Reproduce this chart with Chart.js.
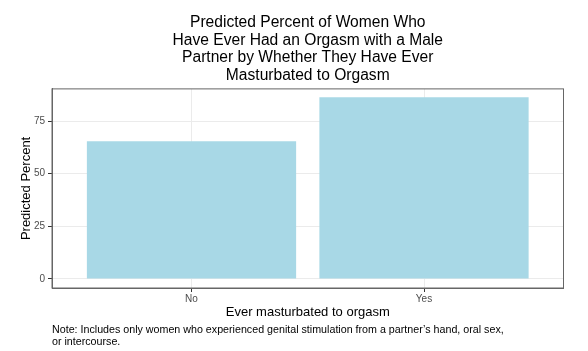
<!DOCTYPE html>
<html>
<head>
<meta charset="utf-8">
<script src="https://cdn.jsdelivr.net/npm/chart.js@4"></script>
<style>
  body { margin: 0; background: #fff; }
  #wrap { position: relative; width: 588px; height: 351px; }
  #nota {
    position: absolute; left: 52px; top: 323px;
    font: 10.7px "Liberation Sans", Arial, sans-serif; line-height: 12px; color: #000;
  }
</style>
</head>
<body>
<div id="wrap">
  <canvas id="grafico"></canvas>
  <div id="nota">Note: Includes only women who experienced genital stimulation from a partner’s hand, oral sex,<br>or intercourse.</div>
</div>
<script>
// Datos
const categorias = ["No", "Yes"];
const valores = [65.4, 86.3];
const ticksY = [0, 25, 50, 75];
const titulo = [
  "Predicted Percent of Women Who",
  "Have Ever Had an Orgasm with a Male",
  "Partner by Whether They Have Ever",
  "Masturbated to Orgasm",
];

const fuente = '"Liberation Sans", Arial, sans-serif';

// Borde del panel (estilo ggplot)
const bordePanel = {
  id: "bordePanel",
  afterDraw(chart) {
    const { ctx, chartArea: a } = chart;
    ctx.save();
    ctx.strokeStyle = "#666";
    ctx.lineWidth = 1;
    ctx.strokeRect(a.left, a.top, a.right - a.left, a.bottom - a.top);
    ctx.restore();
  },
};

new Chart(document.getElementById("grafico"), {
  type: "bar",
  data: {
    datasets: [
      {
        data: valores.map((v, i) => ({ x: i + 1, y: v })),
        backgroundColor: "#a8d8e6",
        barPercentage: 0.9,
        categoryPercentage: 1,
      },
    ],
  },
  plugins: [bordePanel],
  options: {
    responsive: true,
    maintainAspectRatio: false,
    animation: false,
    layout: { padding: { left: 0, right: 24.5, top: 0, bottom: 31 } },
    plugins: {
      legend: { display: false },
      tooltip: { enabled: false },
      title: {
        display: true,
        fullSize: false,
        text: titulo,
        color: "#000",
        font: { family: fuente, size: 15.6, weight: "normal", lineHeight: 1.12 },
        padding: { top: 14.25, bottom: 4.75 },
      },
    },
    scales: {
      x: {
        type: "linear",
        min: 0.4,
        max: 2.6,
        offset: false,
        afterBuildTicks: (s) => { s.ticks = categorias.map((c, i) => ({ value: i + 1 })); },
        afterFit: (s) => { s.height = 32; },
        ticks: {
          callback: (v) => categorias[v - 1],
          color: "#4d4d4d",
          font: { family: fuente, size: 10 },
          padding: 1,
          maxRotation: 0,
        },
        grid: { color: "#ebebeb", tickColor: "#333", tickLength: 4, offset: false },
        border: { color: "#666" },
        title: {
          display: true,
          text: "Ever masturbated to orgasm",
          color: "#000",
          font: { family: fuente, size: 13 },
          padding: { top: 0, bottom: 0.2 },
        },
      },
      y: {
        min: -4.3,
        max: 90.3,
        afterBuildTicks: (s) => { s.ticks = ticksY.map((v) => ({ value: v })); },
        afterFit: (s) => { s.width = 52; },
        ticks: {
          color: "#4d4d4d",
          font: { family: fuente, size: 10 },
          padding: 3,
        },
        grid: { color: "#ebebeb", tickColor: "#333", tickLength: 4 },
        border: { color: "#666" },
        title: {
          display: true,
          text: "Predicted Percent",
          color: "#000",
          font: { family: fuente, size: 13 },
          padding: { top: 19, bottom: 0 },
        },
      },
    },
  },
});
</script>
</body>
</html>
